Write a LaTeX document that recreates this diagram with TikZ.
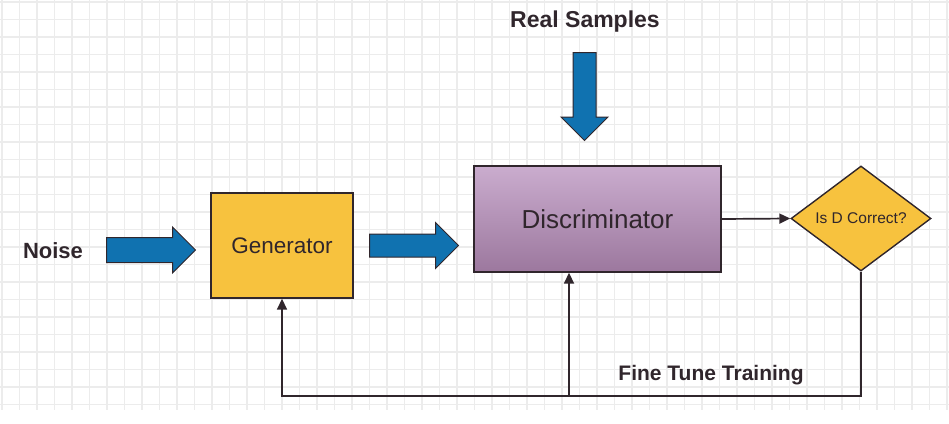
\documentclass[tikz,border=0pt]{standalone}
\usepackage{fontspec}
\setmainfont{Liberation Sans}
\usetikzlibrary{shapes.geometric,shapes.arrows,arrows.meta}
\definecolor{gridgray}{RGB}{236,236,236}
\definecolor{ink}{RGB}{48,38,44}
\definecolor{goldbox}{RGB}{247,194,62}
\definecolor{bluearrow}{RGB}{16,114,176}
\definecolor{plumtop}{RGB}{202,172,206}
\definecolor{plumbot}{RGB}{156,120,158}

\begin{document}
\begin{tikzpicture}[x=1pt,y=-1pt,
    box/.style={draw=ink, line width=1.4pt, inner sep=0pt},
    fatarrow/.style={single arrow, draw=ink, line width=1pt, fill=bluearrow,
        single arrow tip angle=90, inner xsep=0pt, anchor=tail},
    flow/.style={draw=ink, line width=1.7pt, -{Triangle[length=11pt,width=10pt]}},
    tag/.style={text=ink, font=\bfseries\fontsize{22}{26}\selectfont}]
\useasboundingbox (0,0) rectangle (949,423);
\foreach \gx in {2,19.5,...,949}
    \draw[gridgray, line width=1.3pt] (\gx,0) -- (\gx,410);
\foreach \gy in {2,19.5,...,410}
    \draw[gridgray, line width=1.3pt] (0,\gy) -- (949,\gy);
\node[tag, font=\bfseries\fontsize{23}{27}\selectfont] (real) at (585,22) {Real Samples};
\node[tag] (noise) at (53,251) {Noise};
\node[fatarrow, minimum height=89pt, inner ysep=12pt, single arrow head extend=10.5pt] (noisearrow) at (106,250) {};
\node[box, fill=goldbox, minimum width=142pt, minimum height=105pt,
    text=ink, font=\fontsize{22.5}{26}\selectfont] (gen) at (282,245.5) {Generator};
\node[fatarrow, minimum height=89pt, inner ysep=11pt, single arrow head extend=11.5pt] (genarrow) at (369,245.5) {};
\node[box, top color=plumtop, bottom color=plumbot, minimum width=247pt, minimum height=106pt,
    text=ink, font=\fontsize{26}{30}\selectfont] (disc) at (597.5,219) {Discriminator};
\node[fatarrow, minimum height=88pt, inner ysep=11pt, single arrow head extend=12pt, rotate=-90] (realarrow) at (584.5,52) {};
\node[box, diamond, fill=goldbox, aspect=1.33, minimum width=140pt, minimum height=105pt,
    text=ink, font=\fontsize{15.5}{18}\selectfont] (dcheck) at (861,218.5) {Is D Correct?};
\coordinate (split) at (569,396);
\draw[flow] (disc.east) -- (dcheck.west);
\draw[flow] (dcheck.south) |- (split) -| (gen.south);
\draw[flow] (split) -- (split |- disc.south);
\node[tag, font=\bfseries\fontsize{21}{25}\selectfont] (finetune) at (711,375) {Fine Tune Training};
\end{tikzpicture}
\end{document}
